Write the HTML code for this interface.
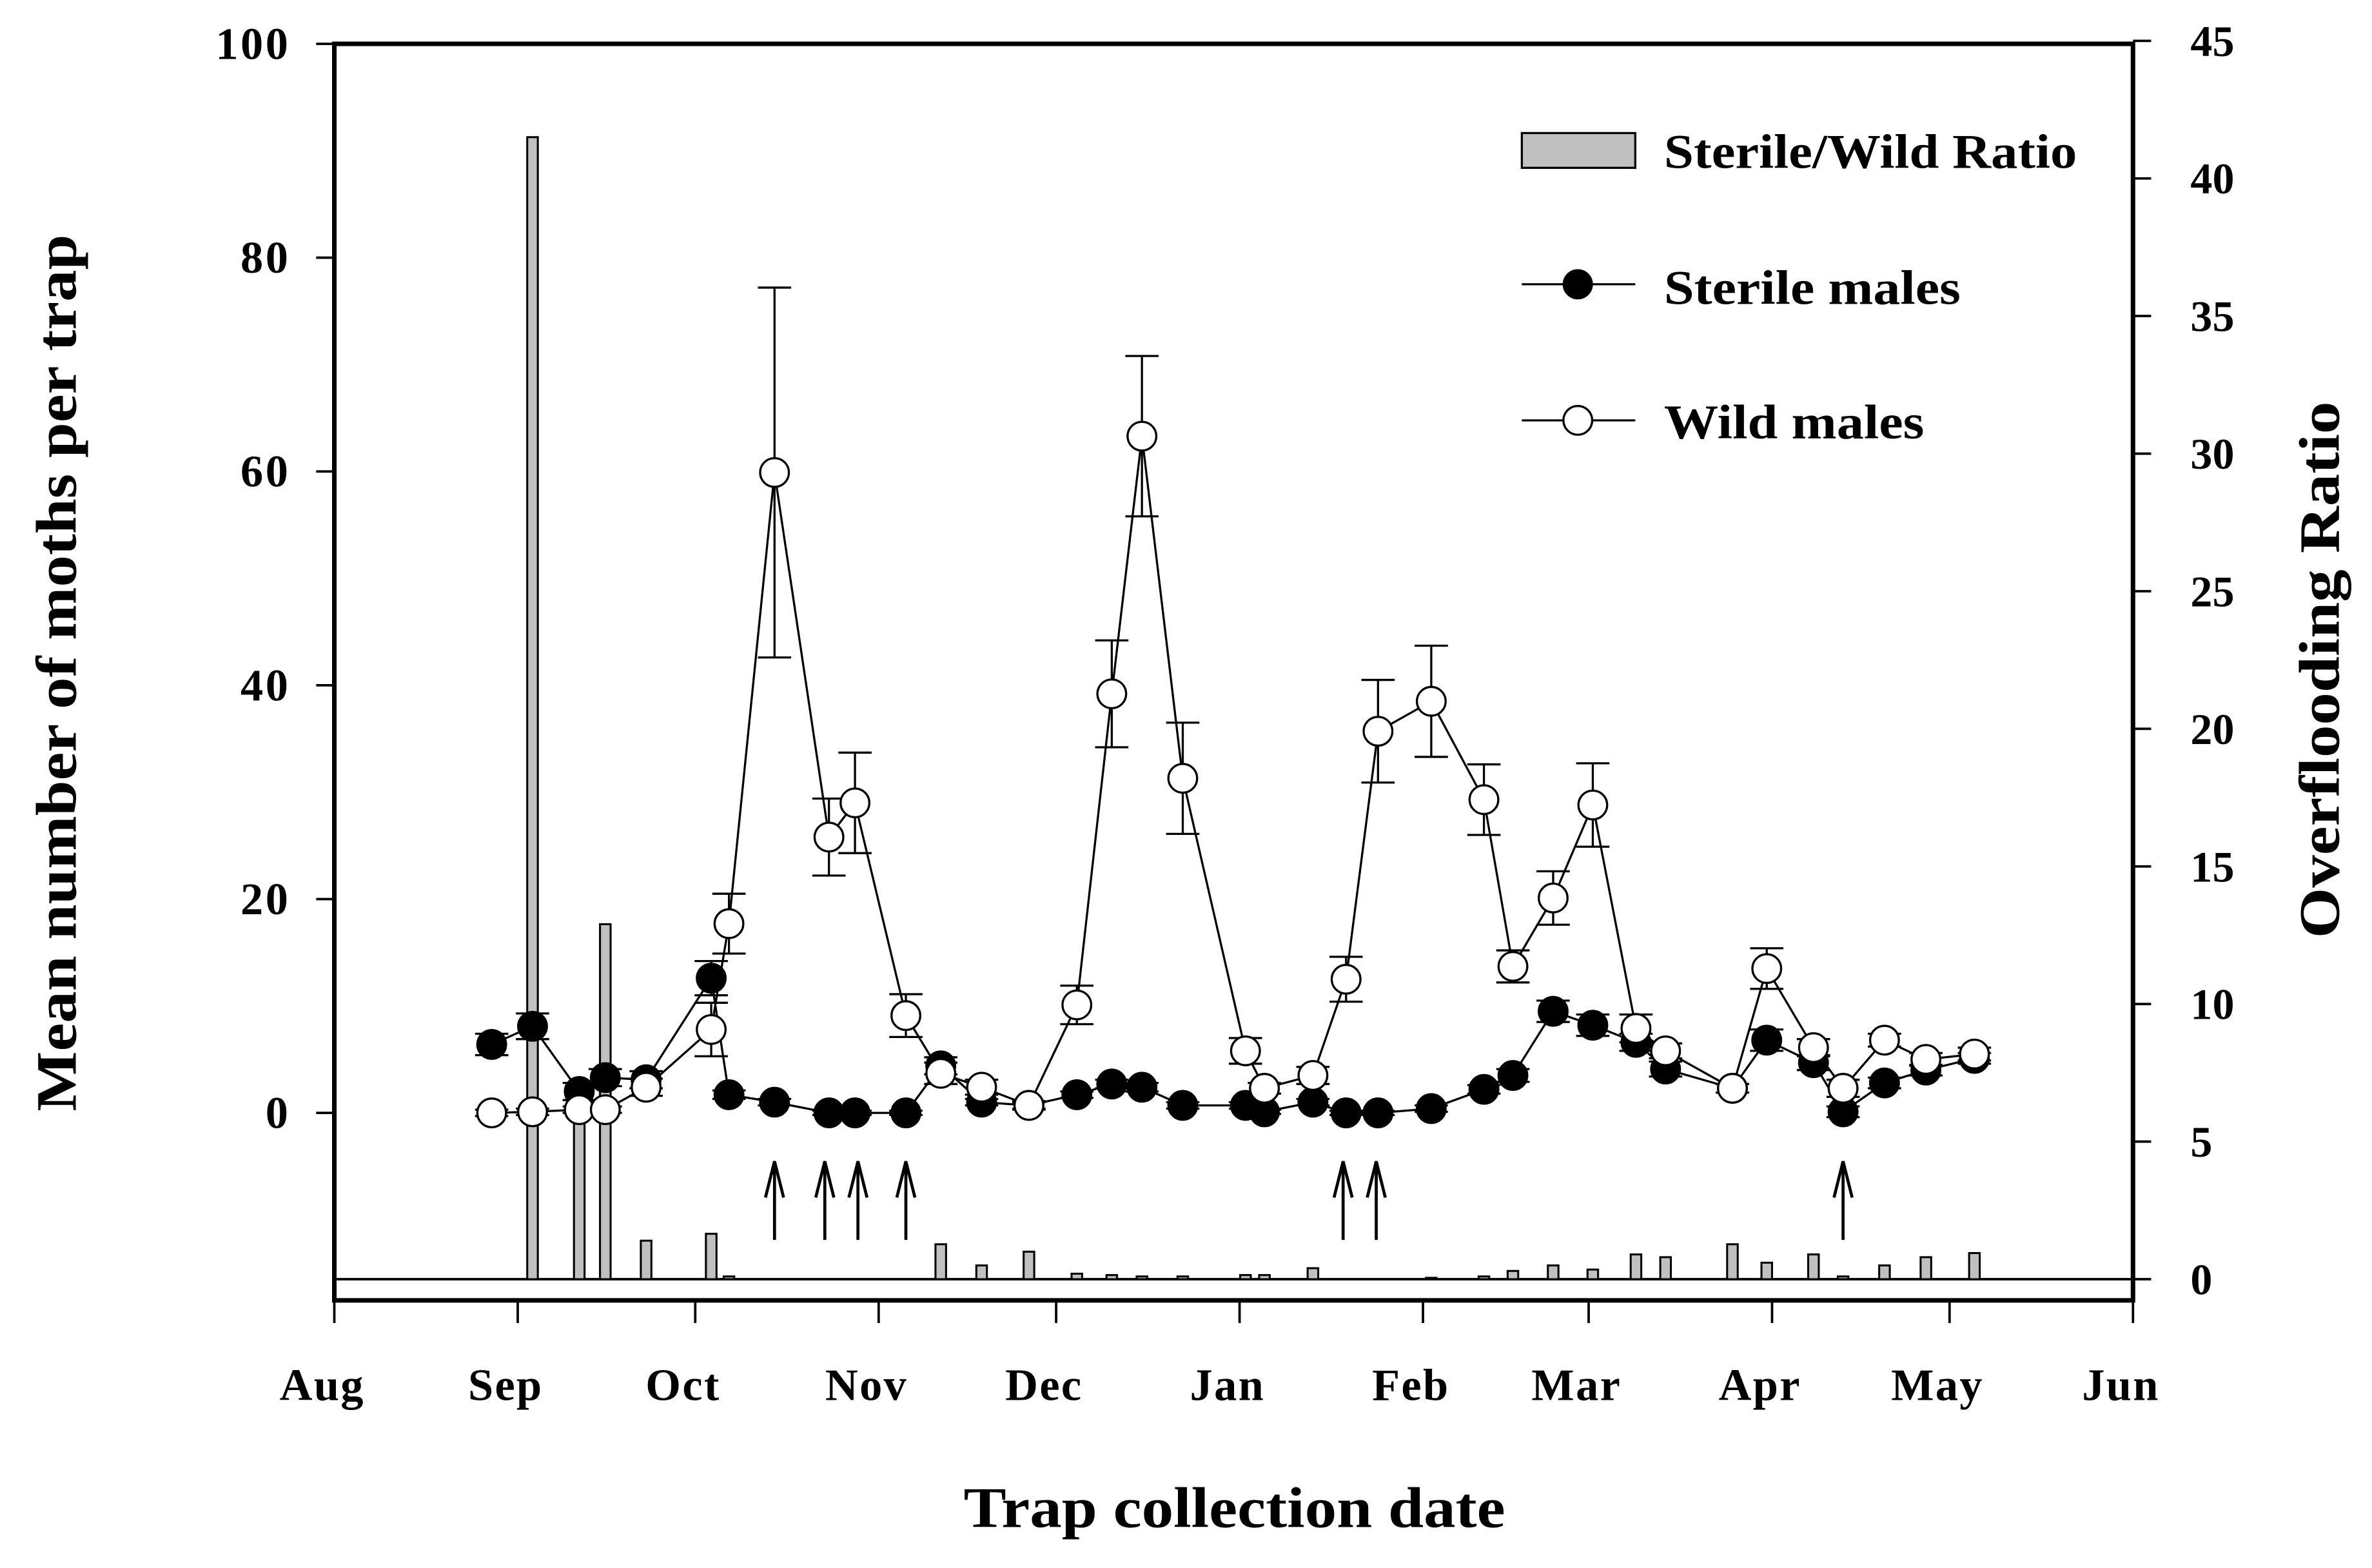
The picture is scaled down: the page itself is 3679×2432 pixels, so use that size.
<!DOCTYPE html>
<html><head><meta charset="utf-8"><style>
html,body{margin:0;padding:0;background:#fff;}
svg{display:block;}
text{font-family:"Liberation Serif",serif;font-weight:bold;fill:#000;}
</style></head><body>
<svg id="chart" width="3679" height="2432" viewBox="0 0 1568 1037" preserveAspectRatio="none" xmlns="http://www.w3.org/2000/svg">
</svg>
<script>
// Days since Aug 1 for each trap collection
const days = [26.6,33.5,41.4,45.8,52.7,63.7,66.7,74.4,83.6,88,96.6,102.5,109.4,117.4,125.5,131.4,136.5,143.4,154,157.2,165.4,171,176.4,185.4,194.3,199.2,206,212.7,220,225,236.3,242.1,250,255,262,269,277.2];
const sterile = [6.4,8.1,2.0,3.3,3.1,12.6,1.7,1.0,0,0,0,4.4,1.0,0.7,1.7,2.7,2.4,0.7,0.7,0.1,1.0,0,0,0.4,2.2,3.5,9.5,8.2,6.6,4.1,2.3,6.8,4.7,0.1,2.8,4.0,5.1];
const sterileSE = [1.0,1.2,0.8,0.8,0.8,1.6,0.4,0.3,0.2,0.2,0.2,0.8,0.3,0.3,0.3,0.4,0.4,0.3,0.3,0.2,0.3,0.2,0.2,0.3,0.4,0.6,1.0,1.0,0.8,0.7,0.4,1.0,0.7,0.5,0.5,0.5,0.5];
const wild = [0,0.1,0.3,0.3,2.4,7.8,17.7,59.9,25.8,29.0,9.1,3.7,2.4,0.7,10.1,39.2,63.3,31.3,5.8,2.3,3.5,12.5,35.7,38.5,29.3,13.7,20.1,28.8,7.9,5.8,2.3,13.5,6.1,2.3,6.8,5.0,5.5];
const wildSE = [0.3,0.3,0.3,0.3,0.8,2.5,2.8,17.3,3.6,4.7,2.0,1,0.7,0.4,1.8,5,7.5,5.2,1.2,0.5,0.8,2.1,4.8,5.2,3.3,1.5,2.5,3.9,1.3,0.7,0.4,1.9,0.8,0.8,0.6,0.6,0.6];
const ratio = [0,41.5,7.1,12.9,1.4,1.65,0.1,0,0,0,0,1.27,0.5,1.0,0.2,0.15,0.1,0.1,0.15,0.15,0.4,0,0,0.05,0.1,0.3,0.5,0.35,0.9,0.8,1.27,0.6,0.9,0.1,0.5,0.8,0.95];
const releaseDays = [74.4,82.9,88.5,96.6,170.5,176.1,255];
const monthLabels = ["Aug","Sep","Oct","Nov","Dec","Jan","Feb","Mar","Apr","May","Jun"];
const monthDays = [0,31,61,92,122,153,184,212,243,273,304];
const leftTicks = [0,20,40,60,80,100];
const rightTicks = [0,5,10,15,20,25,30,35,40,45];

const NS="http://www.w3.org/2000/svg";
const svg=document.getElementById('chart');
const X0=221,X1=1410,YT=29,YB=860;
const xS=d=>X0+d*(X1-X0)/304;
const yL=v=>736-v*(736-29)/100;
const yR=v=>846-v*(846-27)/45;
function el(tag,attrs,parent){const e=document.createElementNS(NS,tag);for(const k in attrs)e.setAttribute(k,attrs[k]);(parent||svg).appendChild(e);return e;}

const frame=el('rect',{x:X0,y:YT,width:X1-X0,height:YB-YT,fill:'none',stroke:'#000','stroke-width':3});


const zl=el('line',{x1:X0,x2:X1,y1:yR(0),y2:yR(0),stroke:'#000','stroke-width':1.6});



leftTicks.forEach(v=>{
  const t=el('line',{x1:X0-12,x2:X0,y1:yL(v),y2:yL(v),stroke:'#000','stroke-width':1.6});
  
  
  const l=el('text',{x:192,y:yL(v)+10,'text-anchor':'end','font-size':30,'letter-spacing':1.5});
  l.textContent=v;
  
  
});
rightTicks.forEach(v=>{
  const t=el('line',{x1:X1,x2:X1+12,y1:yR(v),y2:yR(v),stroke:'#000','stroke-width':1.6});
  
  
  const l=el('text',{x:1448,y:yR(v)+10,'text-anchor':'start','font-size':29});
  l.textContent=v;
  
  
});
monthLabels.forEach((m,i)=>{
  const x=xS(monthDays[i]);
  const t=el('line',{x1:x,x2:x,y1:YB,y2:YB+15,stroke:'#000','stroke-width':1.6});
  
  
  const l=el('text',{x:x-8,y:926,'text-anchor':'middle','font-size':30,'letter-spacing':1});
  l.textContent=m;
  
  
});

ratio.forEach((r,i)=>{
  if(r<=0) return;
  const x=xS(days[i]);
  const b=el('rect',{x:x-3.5,y:yR(r),width:7,height:yR(0)-yR(r),fill:'#c0c0c0',stroke:'#000','stroke-width':1.3});
  
  
});

releaseDays.forEach(d=>{
  const x=xS(d);
  const g=el('g',{stroke:'#000','stroke-width':2,fill:'none'});
  
  
  el('line',{x1:x,x2:x,y1:820,y2:770},g);
  el('polyline',{points:`${x-6},${792} ${x},${768} ${x+6},${792}`},g);
});

function series(vals,se,fill,name){
  const pts=vals.map((v,i)=>`${xS(days[i])},${yL(v)}`).join(' ');
  const ln=el('polyline',{points:pts,fill:'none',stroke:'#000','stroke-width':1.4});
  
  
  vals.forEach((v,i)=>{
    const x=xS(days[i]);
    const g=el('g',{stroke:'#000','stroke-width':1.4});
    
    
    el('line',{x1:x,x2:x,y1:yL(v+se[i]),y2:yL(v-se[i])},g);
    el('line',{x1:x-11,x2:x+11,y1:yL(v+se[i]),y2:yL(v+se[i])},g);
    el('line',{x1:x-11,x2:x+11,y1:yL(v-se[i]),y2:yL(v-se[i])},g);
  });
  vals.forEach((v,i)=>{
    const c=el('circle',{cx:xS(days[i]),cy:yL(v),r:9.5,fill:fill,stroke:'#000','stroke-width':1.4});
    
    
  });
}
series(sterile,sterileSE,'#000','sterile');
series(wild,wildSE,'#fff','wild');

const lg=el('g',{});


el('rect',{x:1006,y:88,width:75,height:23,fill:'#c0c0c0',stroke:'#000','stroke-width':1.4},lg);
el('line',{x1:1006,x2:1081,y1:188,y2:188,stroke:'#000','stroke-width':1.4},lg);
el('circle',{cx:1043,cy:188,r:9.5,fill:'#000',stroke:'#000'},lg);
el('line',{x1:1006,x2:1081,y1:278,y2:278,stroke:'#000','stroke-width':1.4},lg);
el('circle',{cx:1043,cy:278,r:9.5,fill:'#fff',stroke:'#000','stroke-width':1.4},lg);
[["Sterile/Wild Ratio",111,273],["Sterile males",201,196],["Wild males",290,172]].forEach(([t,y,w])=>{
  const tx=el('text',{x:1100,y:y,'font-size':32,textLength:w,lengthAdjust:'spacingAndGlyphs'},lg);
  tx.textContent=t;
  
  
});

const yt=el('text',{x:0,y:0,'font-size':38,'text-anchor':'middle',textLength:580,lengthAdjust:'spacingAndGlyphs',transform:'translate(50,445) rotate(-90)'});
yt.textContent='Mean number of moths per trap';


const rt=el('text',{x:0,y:0,'font-size':38,'text-anchor':'middle',textLength:355,lengthAdjust:'spacingAndGlyphs',transform:'translate(1546,443) rotate(-90)'});
rt.textContent='Overflooding Ratio';


const xt=el('text',{x:816,y:1010,'font-size':38,'text-anchor':'middle',textLength:358,lengthAdjust:'spacingAndGlyphs'});
xt.textContent='Trap collection date';


</script>
</body></html>
